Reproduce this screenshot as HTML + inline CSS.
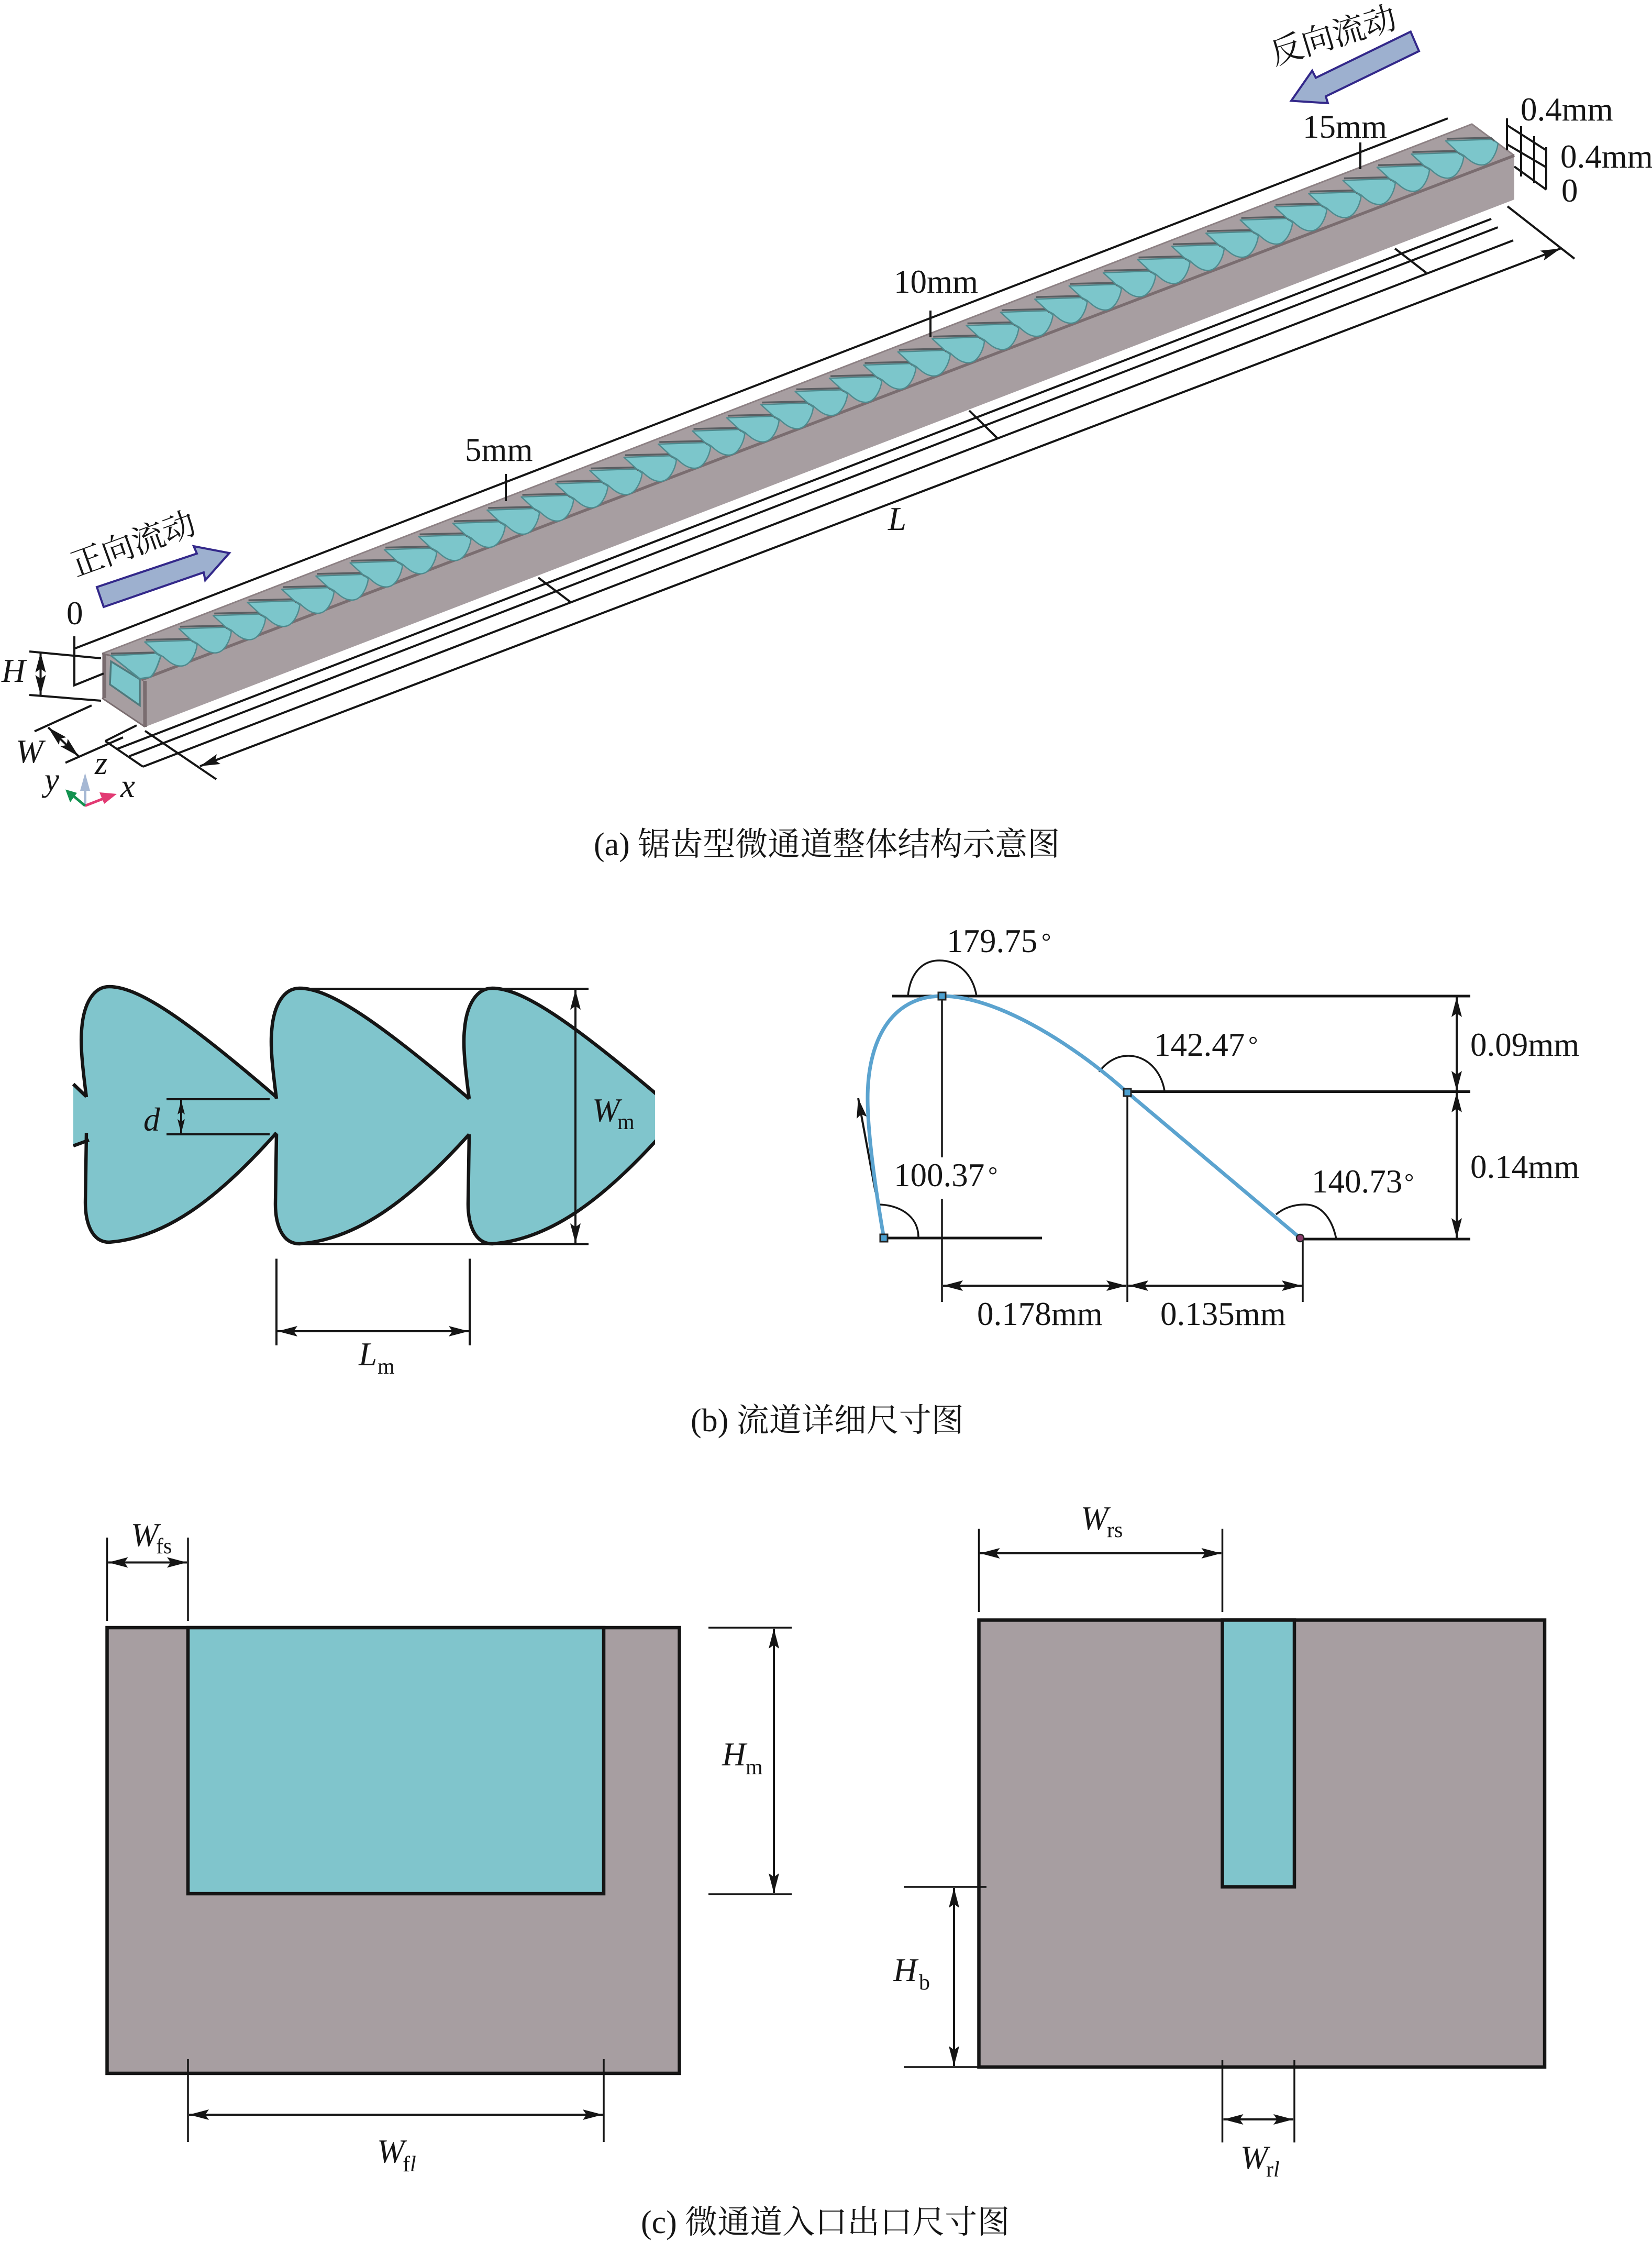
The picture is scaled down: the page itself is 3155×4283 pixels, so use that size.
<!DOCTYPE html>
<html><head><meta charset="utf-8"><title>微通道</title>
<style>
html,body{margin:0;padding:0;background:#fff}
svg{display:block}
text{font-family:"Liberation Serif","Noto Serif CJK SC",serif;font-size:63px;fill:#151515}
.i{font-style:italic}
.s{font-size:42px}
.d{font-size:46px}
.c{font-size:62px}
.r{font-size:62px}
.l{stroke:#151515;stroke-width:4;fill:none}
.t{stroke:#151515;stroke-width:3.5;fill:none}
.h{stroke:#151515;stroke-width:5;fill:none}
.k{stroke:#151515;stroke-width:6.5;fill:none;stroke-linejoin:round}
.a{marker-start:url(#a);marker-end:url(#a)}
</style></head><body>
<svg xmlns="http://www.w3.org/2000/svg" width="3155" height="4283" viewBox="0 0 3155 4283">
<defs>
<marker id="a" markerUnits="userSpaceOnUse" markerWidth="44" markerHeight="24" refX="40" refY="12" orient="auto-start-reverse"><path d="M40,12 L2,2 L9,12 L2,22Z" fill="#151515"/></marker>
<marker id="b" markerUnits="userSpaceOnUse" markerWidth="30" markerHeight="18" refX="28" refY="9" orient="auto-start-reverse"><path d="M28,9 L1,2 L6,9 L1,16Z" fill="#151515"/></marker>
<path id="f" d="M0,211 C-8,150 -12,110 -9,80 C-5,30 15,0 44,0 C100,0 190,60 368,211 L368,279 C250,410 150,480 44,488 C10,488 -2,450 -2,412 L0,279 Z"/>
<path id="o" d="M0,211 C-8,150 -12,110 -9,80 C-5,30 15,0 44,0 C100,0 190,60 368,211 M368,279 C250,410 150,480 44,488 C10,488 -2,450 -2,412 L0,279"/>
<g id="t">
<path d="M0,0 L89,-3 L100,5 C98,20 88,46 69,46 C56,46 46,38 35,28 L24,22 Z" fill="#7cc6cb" stroke="#4f8a8e" stroke-width="2.5" stroke-linejoin="round"/>
<path d="M2,-4 L86,-6 L93,0" fill="none" stroke="#5a5e62" stroke-width="3.5"/>
</g>
<clipPath id="c3"><rect x="0" y="1800" width="1251" height="700"/></clipPath>
</defs>

<!-- (a) body -->
<polygon points="195,1248 276,1298 277,1388 195,1333" fill="#a79ea1"/>
<polygon points="195,1248 2811,237 2892,297 276,1298" fill="#a79ea1"/>
<polygon points="276,1298 2892,297 2892,381 277,1388" fill="#a79ea1"/>
<path d="M195,1248 L2811,237 L2892,297" fill="none" stroke="#8d8184" stroke-width="3"/>
<path d="M270,1298 L2892,297" fill="none" stroke="#7a6d70" stroke-width="5.5"/>
<polygon points="212,1263 267,1297 267,1347 210,1307" fill="#7cc6cb" stroke="#4e7a7d" stroke-width="3.5"/>
<path d="M200,1250 L200,1333" stroke="#7a6d70" stroke-width="6" fill="none"/>
<path d="M276.7,1300 L277,1388" stroke="#7a6d70" stroke-width="7" fill="none"/>
<path d="M195,1333 L277,1388 M195,1248 L212,1252" stroke="#7a6d70" stroke-width="3" fill="none"/>
<path d="M212,1252 L297,1247 L307,1253 C302,1268 296,1286 287,1293 L267,1296 Z" fill="#7cc6cb" stroke="#4f8a8e" stroke-width="3" stroke-linejoin="round"/>
<path d="M212,1248 L295,1246" fill="none" stroke="#5a5e62" stroke-width="3.5"/>
<use href="#t" x="276.5" y="1225.8"/><use href="#t" x="341.8" y="1200.7"/><use href="#t" x="407.2" y="1175.5"/><use href="#t" x="472.6" y="1150.3"/>
<use href="#t" x="538" y="1125.1"/><use href="#t" x="603.4" y="1099.9"/><use href="#t" x="668.7" y="1074.8"/><use href="#t" x="734.1" y="1049.6"/>
<use href="#t" x="799.5" y="1024.4"/><use href="#t" x="864.9" y="999.2"/><use href="#t" x="930.3" y="974"/><use href="#t" x="995.6" y="948.9"/>
<use href="#t" x="1061" y="923.7"/><use href="#t" x="1126.4" y="898.5"/><use href="#t" x="1191.8" y="873.3"/><use href="#t" x="1257.2" y="848.1"/>
<use href="#t" x="1322.5" y="823"/><use href="#t" x="1387.9" y="797.8"/><use href="#t" x="1453.3" y="772.6"/><use href="#t" x="1518.7" y="747.4"/>
<use href="#t" x="1584.1" y="722.2"/><use href="#t" x="1649.4" y="697.1"/><use href="#t" x="1714.8" y="671.9"/><use href="#t" x="1780.2" y="646.7"/>
<use href="#t" x="1845.6" y="621.5"/><use href="#t" x="1911" y="596.3"/><use href="#t" x="1976.3" y="571.2"/><use href="#t" x="2041.7" y="546"/>
<use href="#t" x="2107.1" y="520.8"/><use href="#t" x="2172.5" y="495.6"/><use href="#t" x="2237.9" y="470.4"/><use href="#t" x="2303.2" y="445.3"/>
<use href="#t" x="2368.6" y="420.1"/><use href="#t" x="2434" y="394.9"/><use href="#t" x="2499.4" y="369.7"/><use href="#t" x="2564.8" y="344.5"/>
<use href="#t" x="2630.1" y="319.4"/><use href="#t" x="2695.5" y="294.2"/><use href="#t" x="2760.9" y="269"/>

<!-- (a) dimension lines -->
<path class="l" d="M143.5,1238 L2765,226 M142,1215 L142,1308.5 L198,1286 M56,1244 L193,1257 M56,1327 L193,1338"/>
<line class="l a" x1="77.5" y1="1246" x2="77.5" y2="1327"/>
<path class="l" d="M66,1396.5 L175,1347 M125,1456.5 L235,1408 M201,1415 L261,1385"/>
<line class="l a" x1="92" y1="1389" x2="150" y2="1444"/>
<path class="l" d="M224,1430 L2848,418 M247,1444 L2860.6,434 M273,1464 L2890,459 M201,1415 L273,1464 M277,1395.6 L413,1488 M2879,394 L3007,494"/>
<line class="l a" x1="382" y1="1463" x2="2980.5" y2="474.5"/>
<path class="l" d="M1028,1103 L1090,1150 M1851,784 L1905,837 M2664,474.5 L2724,521"/>
<path class="l" d="M966,905 L966,957 M1777,593 L1777,644 M2598,272 L2598,323"/>
<path class="l" d="M2878,226 L2878,287 M2905,241 L2905,337 M2930,260 L2930,350 M2953,281 L2953,362 M2878,239 L2953,287 M2878,275.5 L2953,319.5 M2892,318 L2953,362"/>

<text x="888" y="880">5mm</text>
<text x="1707" y="559">10mm</text>
<text x="2488" y="263">15mm</text>
<text class="i" x="1696" y="1012">L</text>
<text x="127" y="1192">0</text>
<text x="2904" y="230">0.4mm</text>
<text x="2980" y="320">0.4mm</text>
<text x="2982" y="385">0</text>
<text class="i" x="3" y="1302">H</text>
<text class="i" x="30" y="1456">W</text>

<polygon points="185,1121 376,1057 370,1043 438,1056 392,1108 389,1093 198,1159" fill="#9db0cf" stroke="#33288a" stroke-width="4"/>
<polygon points="2694,60.5 2710,97.6 2532,184 2536,197 2466,192.5 2506,135 2513,148.5" fill="#9db0cf" stroke="#33288a" stroke-width="4"/>
<text class="r" transform="translate(254,1038) rotate(-20)" x="0" y="22" text-anchor="middle">正向流动</text>
<text class="r" transform="translate(2546,67) rotate(-17)" x="0" y="22" text-anchor="middle">反向流动</text>

<!-- axes -->
<path d="M162.5,1538.6 L162.5,1495" stroke="#a6b8d4" stroke-width="5"/>
<polygon points="162.5,1476 153,1510 172,1510" fill="#a6b8d4"/>
<path d="M162.5,1538.6 L205,1522" stroke="#e23a73" stroke-width="5"/>
<polygon points="223,1516 190,1513 199,1535" fill="#e23a73"/>
<path d="M162.5,1538.6 L138,1518" stroke="#12924f" stroke-width="5"/>
<polygon points="125,1507.5 147,1514 134,1532" fill="#12924f"/>
<text class="i" x="181" y="1478">z</text>
<text class="i" x="85" y="1510">y</text>
<text class="i" x="230" y="1522">x</text>

<text class="c" x="1134" y="1633">(a) 锯齿型微通道整体结构示意图</text>

<!-- (b) left -->
<g fill="#80c5cc">
<polygon points="140,2070 165,2094 170,2177 140,2188"/>
<rect x="150" y="2098" width="30" height="70"/>
<use href="#f" transform="translate(165,1884) scale(.9864,1)"/>
<use href="#f" transform="translate(528,1887)"/>
<g clip-path="url(#c3)"><use href="#f" transform="translate(896,1887)"/><rect x="1200" y="2085" width="51" height="95"/></g>
</g>
<path class="k" d="M140,2070 L165,2094 M140,2188 L170,2177"/>
<use href="#o" class="k" transform="translate(165,1884) scale(.9864,1)"/>
<use href="#o" class="k" transform="translate(528,1887)"/>
<g clip-path="url(#c3)"><use href="#o" class="k" transform="translate(896,1887)"/></g>
<path class="l" d="M572,1888 L1124,1888 M572,2375.5 L1124,2375.5 M318,2099 L515,2099 M318,2166 L515,2166 M528,2403.5 L528,2569 M897,2403.5 L897,2569"/>
<line class="l a" x1="1099" y1="1890" x2="1099" y2="2374"/>
<line class="l" x1="346" y1="2101" x2="346" y2="2164" style="marker-start:url(#b);marker-end:url(#b)"/>
<line class="l a" x1="530" y1="2542" x2="895" y2="2542"/>
<text class="i" x="1131" y="2141">W</text><text class="s" x="1179" y="2156">m</text>
<text class="i" x="274" y="2159">d</text>
<text class="i" x="685" y="2607">L</text><text class="s" x="721" y="2623">m</text>

<!-- (b) right -->
<path class="h" d="M1704,1902 L2808,1902 M2153,2084.5 L2808,2084.5 M2483,2366 L2808,2366 M1688,2364 L1990,2364"/>
<path class="t" d="M1799,1902 L1799,2210 M1799,2289 L1799,2486 M2153,2086 L2153,2486 M2488,2366 L2488,2486"/>
<line class="l a" x1="1801" y1="2455" x2="2151" y2="2455"/>
<line class="l a" x1="2155" y1="2455" x2="2486" y2="2455"/>
<line class="l a" x1="2782" y1="1904" x2="2782" y2="2083"/>
<line class="l a" x1="2782" y1="2086" x2="2782" y2="2364"/>
<line class="l" x1="1672" y1="2276" x2="1639" y2="2097" style="marker-end:url(#a)"/>
<path class="t" d="M1734,1902 C1738,1860 1760,1834 1794,1834 C1830,1834 1858,1860 1865,1902"/>
<path class="t" d="M2099,2046.5 C2115,2026 2134,2016 2155,2016 C2190,2016 2218,2045 2224,2083"/>
<path class="t" d="M2437,2319 C2452,2306 2472,2300 2492,2300 C2525,2300 2545,2330 2552,2366"/>
<path class="t" d="M1676,2300 C1715,2300 1754,2320 1754,2363"/>
<path d="M1688,2364 C1670,2260 1657,2160 1657,2097 C1657,1990 1700,1902 1799,1902 C1900,1902 2043,1988 2153,2086 L2483,2364" fill="none" stroke="#5ba3cf" stroke-width="7"/>
<rect x="1681" y="2357" width="14" height="14" fill="#4ca0d0" stroke="#222" stroke-width="3"/>
<rect x="1792" y="1895" width="14" height="14" fill="#4ca0d0" stroke="#222" stroke-width="3"/>
<rect x="2146" y="2079" width="14" height="14" fill="#4ca0d0" stroke="#222" stroke-width="3"/>
<ellipse cx="2483" cy="2364" rx="7" ry="7" fill="#8a3b6a" stroke="#222" stroke-width="2.5"/>
<text x="1808" y="1818">179.75</text><text class="d" x="1989" y="1813">°</text>
<text x="2204" y="2016">142.47</text><text class="d" x="2384" y="2010">°</text>
<text x="1707" y="2265">100.37</text><text class="d" x="1887" y="2259">°</text>
<text x="2505" y="2277">140.73</text><text class="d" x="2682" y="2272">°</text>
<text x="2808" y="2016">0.09mm</text>
<text x="2808" y="2249">0.14mm</text>
<text x="1866" y="2530">0.178mm</text>
<text x="2216" y="2530">0.135mm</text>

<text class="c" x="1319" y="2733">(b) 流道详细尺寸图</text>

<!-- (c) left -->
<rect x="204.5" y="3108" width="1093" height="851" fill="#a79ea1" stroke="#151515" stroke-width="6.5"/>
<rect x="359" y="3108" width="794" height="508" fill="#80c5cc" stroke="#151515" stroke-width="6.5"/>
<path class="t" d="M204.5,2936 L204.5,3095 M359,2936 L359,3095 M359,3932 L359,4090 M1153,3932 L1153,4090 M1353,3108 L1512,3108 M1353,3617 L1512,3617"/>
<line class="l a" x1="206.5" y1="2983.5" x2="357" y2="2983.5"/>
<line class="l a" x1="361" y1="4038" x2="1151" y2="4038"/>
<line class="l a" x1="1478" y1="3110" x2="1478" y2="3615"/>
<text class="i" x="250" y="2952">W</text><text class="s" x="298" y="2966">fs</text>
<text class="i" x="1379" y="3371">H</text><text class="s" x="1424" y="3388">m</text>
<text class="i" x="720" y="4129">W</text><text class="s" x="769" y="4146">f<tspan class="i">l</tspan></text>

<!-- (c) right -->
<rect x="1869.5" y="3093.5" width="1080.5" height="853.5" fill="#a79ea1" stroke="#151515" stroke-width="6.5"/>
<rect x="2334.5" y="3093.5" width="137.5" height="509.5" fill="#80c5cc" stroke="#151515" stroke-width="6.5"/>
<path class="t" d="M1869.5,2919 L1869.5,3078 M2334.5,2919 L2334.5,3078 M2334.5,3934 L2334.5,4091 M2472,3934 L2472,4091 M1726,3603 L1884,3603 M1726,3947 L1870,3947"/>
<line class="l a" x1="1871.5" y1="2966" x2="2332.5" y2="2966"/>
<line class="l a" x1="2336.5" y1="4047" x2="2470" y2="4047"/>
<line class="l a" x1="1822" y1="3605" x2="1822" y2="3945"/>
<text class="i" x="2064" y="2920">W</text><text class="s" x="2114" y="2935">rs</text>
<text class="i" x="1706" y="3783">H</text><text class="s" x="1755" y="3799">b</text>
<text class="i" x="2369" y="4141">W</text><text class="s" x="2418" y="4156">r<tspan class="i">l</tspan></text>

<text class="c" x="1224" y="4264">(c) 微通道入口出口尺寸图</text>
</svg>
</body></html>
